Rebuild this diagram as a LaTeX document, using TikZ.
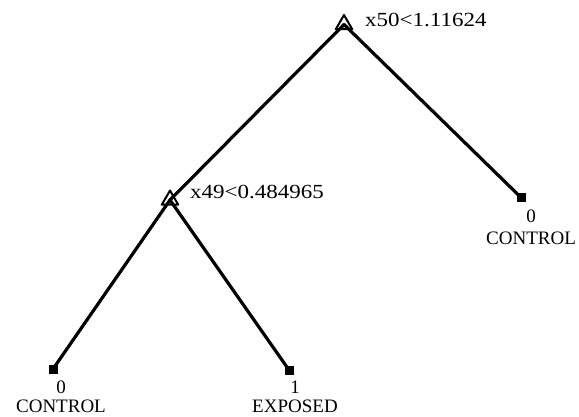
\documentclass[tikz,border=0pt]{standalone}
\usepackage{fontspec}
\setmainfont{Liberation Serif}
\usetikzlibrary{shapes.geometric}
\begin{document}
\begin{tikzpicture}[x=1pt,y=-1pt,
  edge/.style={line width=3.2pt, line cap=round},
  splitmark/.style={draw, regular polygon, regular polygon sides=3, minimum size=19pt, inner sep=0pt, line width=2pt, line join=round},
  leafbox/.style={fill=black, minimum size=9pt, inner sep=0pt},
  splitlabel/.style={anchor=west, inner sep=0pt, font=\fontsize{20}{24}\selectfont},
  leaflabel/.style={anchor=base, inner sep=0pt, font=\fontsize{19}{23}\selectfont}]
\useasboundingbox (0,0) rectangle (579,417);
% split markers
\node[splitmark] (root) at (344,24.5) {};
\node[splitmark] (left) at (170,200) {};
% leaves
\node[leafbox] (leafA) at (53,369) {};
\node[leafbox] (leafB) at (289,370) {};
\node[leafbox] (leafC) at (521,197.5) {};
% edges
\draw[edge] (root.center) -- (left.center);
\draw[edge] (root.center) -- (leafC.center);
\draw[edge] (left.center) -- (leafA.center);
\draw[edge] (left.center) -- (leafB.center);
% split labels
\node[splitlabel] (rootlab) at (365,20) {\scalebox{1.15}[1]{x50<1.11624}};
\node[splitlabel] (leftlab) at (190,191.5) {\scalebox{1.15}[1]{x49<0.484965}};
% leaf labels
\node[leaflabel] (valA) at (61,393) {0};
\node[leaflabel] (clsA) at (61,412) {CONTROL};
\node[leaflabel] (valB) at (295,393) {1};
\node[leaflabel] (clsB) at (295,412) {EXPOSED};
\node[leaflabel] (valC) at (531,223) {0};
\node[leaflabel] (clsC) at (531,244) {CONTROL};
\end{tikzpicture}
\end{document}
